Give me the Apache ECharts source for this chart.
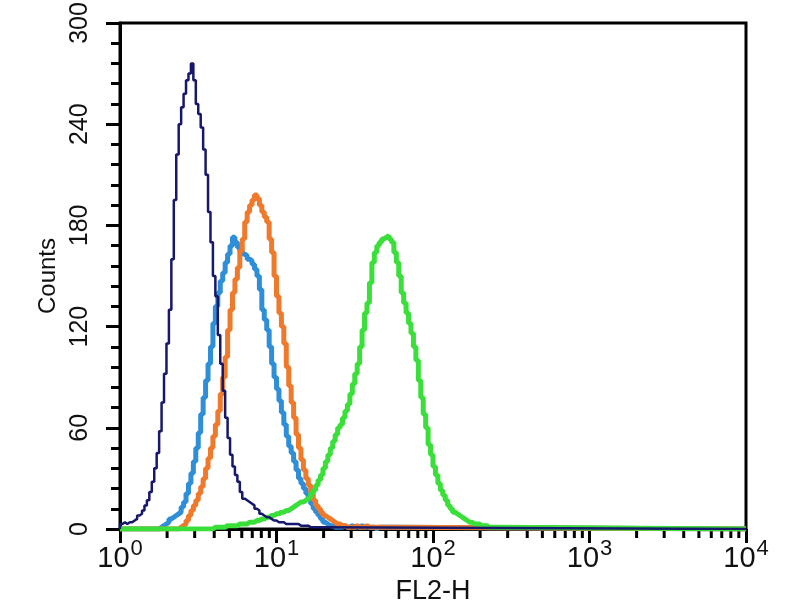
<!DOCTYPE html>
<html>
<head>
<meta charset="utf-8">
<script src="https://cdn.jsdelivr.net/npm/echarts@6/dist/echarts.min.js"></script>
<style>
  html, body { margin: 0; padding: 0; background: #fff; }
  #echarts_1 { width: 800px; height: 600px; }
</style>
</head>
<body>
<div id="echarts_1"></div>
<script>
// channels: 64 per decade, 256 channels = 10^0 .. 10^4
var channelsPerDecade = 64;
var channelMax = 256;
var decadeLabels = ['0', '1', '2', '3', '4'];
var yTicks = [0, 60, 120, 180, 240, 300];

// counts per channel, each series starts at its own channel
var navyStart = 0;
var navy = [3,4,3,4,4,5,6,8,9,11,14,17,22,28,36,45,58,75,92,110,130,160,195,222,240,250,258,266,270,276,
  266,252,246,238,225,210,188,170,150,138,115,98,82,66,54,44,37,32,28,22,18,17,16,15,14,12,11,9,8,7,
  7,6,5,5,4,4,4,3,3,3,3,3,3,2,2,2,2,1,1,1,1];

var blueStart = 16;
var blue = [1,2,3,4,6,7,8,9,10,13,16,21,27,33,40,48,57,68,78,88,98,108,122,132,140,147,152,158,163,168,
  173,170,167,165,163,162,160,159,157,154,150,142,130,124,118,108,98,90,83,76,69,62,55,49,45,40,35,30,27,24,
  21,18,15,12,10,8,6,4,3,2,2,1,1,1,1,2,1,1,2,1,1,1,2,1,1,1,1,1,0,1,1,1,1,1,1,1];

var orangeStart = 24;
var orange = [1,2,3,5,8,11,14,17,21,25,30,36,42,48,55,62,70,80,90,102,118,130,140,148,155,165,172,182,188,192,
  195,198,196,192,188,185,182,172,164,150,138,128,120,110,96,85,75,66,56,48,41,35,30,26,21,17,14,12,10,8,
  7,6,5,4,3,3,2,2,1,1,1,1,2,1,1,1,2,1,1,1,1,1,1,1,1,1,1];

var greenStart = 38;
var green = [1,1,1,1,1,2,2,2,2,2,3,3,3,3,4,4,4,5,5,6,6,7,7,8,8,9,9,10,10,11,
  11,12,13,14,15,16,16,17,18,19,21,23,26,29,32,36,40,44,48,52,56,60,62,66,70,74,80,86,92,98,
  108,118,128,134,146,158,164,168,170,172,173,174,172,170,164,158,150,140,134,128,122,116,108,100,88,78,68,60,50,44,
  37,32,27,23,20,17,14,12,10,9,8,7,6,5,4,4,3,3,3,2,2,2,1,1,1,1];

// log minor ticks 2..9 inside each decade
var minorMultipliers = [2,3,4,5,6,7,8,9];

// turn a start channel + counts into step points
function toPoints(start, counts) {
  var pts = [[0, 0]];
  for (var i = 0; i < counts.length; i++) {
    pts.push([start + i, counts[i]]);
  }
  pts.push([start + counts.length, 0]);
  pts.push([channelMax, 0]);
  return pts;
}

var minorTicks = [];
for (var d = 0; d < decadeLabels.length - 1; d++) {
  for (var k = 0; k < minorMultipliers.length; k++) {
    minorTicks.push([channelsPerDecade * (d + Math.log10(minorMultipliers[k]))]);
  }
}

function histSeries(name, start, counts, color, width) {
  return {
    name: name,
    type: 'line',
    step: 'end',
    symbol: 'none',
    data: toPoints(start, counts),
    lineStyle: { color: color, width: width },
    animation: false
  };
}

var echarts_1 = echarts.init(document.getElementById('echarts_1'));
var option = {
  backgroundColor: '#fff',
  textStyle: { fontFamily: 'Liberation Sans, Arial, sans-serif' },
  grid: {
    left: 120, right: 54, top: 23, bottom: 71,
    outerBoundsMode: 'none',
    show: true, borderColor: '#000', borderWidth: 3
  },
  xAxis: {
    type: 'value',
    min: 0,
    max: channelMax,
    interval: channelsPerDecade,
    name: 'FL2-H',
    nameLocation: 'middle',
    nameGap: 46,
    nameTextStyle: { fontSize: 27, color: '#111' },
    axisLine: { lineStyle: { color: '#000', width: 3 } },
    axisTick: { length: 14, lineStyle: { color: '#000', width: 3 } },
    splitLine: { show: false },
    axisLabel: {
      margin: 14,
      color: '#111',
      formatter: function (v) {
        return '{b|10}{s|' + decadeLabels[Math.round(v / channelsPerDecade)] + '}';
      },
      rich: {
        b: { fontSize: 29, lineHeight: 30, verticalAlign: 'bottom', color: '#111' },
        s: { fontSize: 22, lineHeight: 22, verticalAlign: 'bottom', padding: [0, 0, 13, 1], color: '#111' }
      }
    }
  },
  yAxis: {
    type: 'value',
    min: yTicks[0],
    max: yTicks[yTicks.length - 1],
    interval: yTicks[1] - yTicks[0],
    name: 'Counts',
    nameLocation: 'middle',
    nameRotate: 90,
    nameGap: 60,
    nameTextStyle: { fontSize: 24, color: '#111' },
    axisLine: { show: true, lineStyle: { color: '#000', width: 3 } },
    axisTick: { show: true, length: 14, lineStyle: { color: '#000', width: 3 } },
    minorTick: { show: true, splitNumber: 5, length: 9, lineStyle: { color: '#000', width: 3 } },
    splitLine: { show: false },
    axisLabel: { rotate: 90, fontSize: 25, color: '#111', margin: 27 }
  },
  series: [
    histSeries('blue', blueStart, blue, '#2e8fd8', 5),
    histSeries('orange', orangeStart, orange, '#ef7a2b', 5),
    histSeries('green', greenStart, green, '#3adf3a', 5),
    histSeries('navy', navyStart, navy, '#16186b', 2.5),
    {
      // x minor ticks (2..9 of each decade)
      type: 'custom',
      data: minorTicks,
      clip: false,
      silent: true,
      animation: false,
      renderItem: function (params, api) {
        var p = api.coord([api.value(0), 0]);
        return {
          type: 'line',
          shape: { x1: p[0], y1: p[1], x2: p[0], y2: p[1] + 9 },
          style: { stroke: '#000', lineWidth: 3 }
        };
      }
    }
  ]
};
echarts_1.setOption(option);
</script>
</body>
</html>
